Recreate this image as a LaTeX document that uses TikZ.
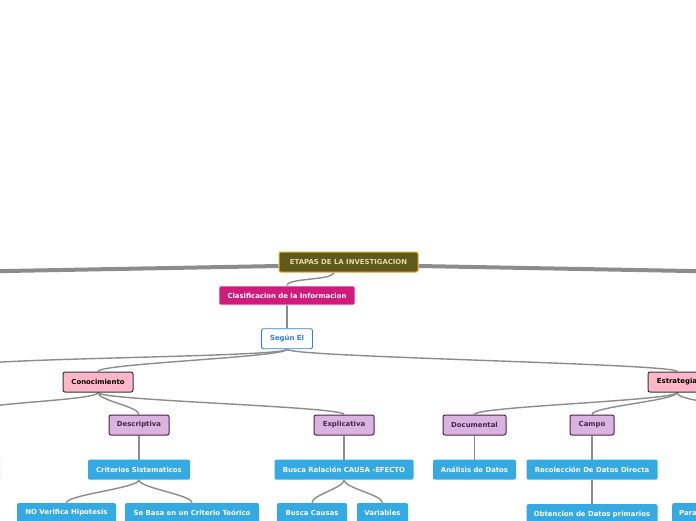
\documentclass[tikz,border=0pt]{standalone}
\usepackage{fontspec}
\setmainfont{DejaVu Sans}
\usepackage{xcolor}
\definecolor{olive700}{HTML}{5E5A1C}
\definecolor{amber400}{HTML}{F2A62E}
\definecolor{khaki200}{HTML}{E3DCA0}
\definecolor{magenta600}{HTML}{D01A7C}
\definecolor{blue600}{HTML}{2C7FDB}
\definecolor{pink200}{HTML}{FFB6C9}
\definecolor{lilac200}{HTML}{D9B4E1}
\definecolor{plum900}{HTML}{4A2346}
\definecolor{sky500}{HTML}{35A9E1}
\definecolor{gray500}{HTML}{8C8C8C}
\usepackage{tikz}
\usetikzlibrary{positioning, backgrounds}

\begin{document}
\begin{tikzpicture}[
        x=1pt, y=-1pt,
        box/.style={rectangle, rounded corners=2pt, minimum height=20pt, inner xsep=5pt, font=\fontsize{6.9}{8}\selectfont\bfseries},
        root/.style={box, fill=olive700, draw=amber400, line width=1pt, text=khaki200},
        topic/.style={box, fill=magenta600, draw=white, line width=0.6pt, text=white},
        outline/.style={box, fill=white, draw=blue600, line width=0.9pt, text=blue600},
        cat/.style={box, fill=pink200, draw=black!80, line width=1pt, text=black},
        sub/.style={box, fill=lilac200, draw=plum900, line width=1pt, text=plum900},
        leaf/.style={box, fill=sky500, text=white},
        link/.style={draw=gray500, line width=1.4pt},
        trunk/.style={draw=gray500, line width=4pt},
        fork/.style={out=-90, in=90, distance=8pt}
    ]
        \useasboundingbox (0,0) rectangle (696,520);

        % Root and first levels
        \node[root, minimum width=139pt] (etapas) at (348.5,262) {ETAPAS DE LA INVESTIGACION};
        \node[topic, minimum width=136pt, minimum height=19pt] (clasif) at (287,295.5) {Clasificacion de la Informacion};
        \node[outline, minimum width=51pt, below=23pt of clasif] (segun) {Según El};

        % Categories
        \node[cat, minimum width=70pt] (conoc) at (98,382) {Conocimiento};
        \node[cat, minimum width=58pt] (estrat) at (677,382) {Estrategia};

        % Types
        \node[sub, minimum width=60pt] (descr) at (139,425) {Descriptiva};
        \node[sub, minimum width=60pt] (expli) at (344,425) {Explicativa};
        \node[sub, minimum width=63pt] (docum) at (474.5,425) {Documental};
        \node[sub, minimum width=44pt] (campo) at (592,425) {Campo};

        % Details
        \node[leaf, minimum width=102pt, below=24pt of descr] (criter) {Criterios Sistematicos};
        \node[leaf, minimum width=139pt, below=24pt of expli] (relac) {Busca Relación CAUSA -EFECTO};
        \node[leaf, minimum width=83pt, below=24pt of docum] (analis) {Análisis de Datos};
        \node[leaf, minimum width=131pt, below=24pt of campo] (recol) {Recolección De Datos Directa};
        \node[box, fill=white, draw=black!15, minimum width=80pt] (cutleft) at (-39,469) {};

        \node[leaf, minimum width=99pt] (noverif) at (66.5,513) {NO Verifica Hipotesis};
        \node[leaf, minimum width=134pt] (sebasa) at (192,513) {Se Basa en un Criterio Teórico};
        \node[leaf, minimum width=70pt] (causas) at (312,513) {Busca Causas};
        \node[leaf, minimum width=51pt] (variab) at (382.5,513) {Variables};
        \node[leaf, minimum width=131pt, below=24pt of recol] (obten) {Obtencion de Datos primarios};
        \node[leaf, anchor=west, inner xsep=7pt] (para) at (672,513) {Para};

        % Branches leaving the page
        \coordinate (farL) at (-10,271.3);
        \coordinate (farR) at (706,271.3);
        \coordinate (offSegun) at (-30,366);
        \coordinate (offConoc) at (-25,411);
        \coordinate (offEstrat) at (720,409);

        \begin{scope}[on background layer]
            \fill[white] (0,0) rectangle (696,520);
            \draw[trunk] ([yshift=-4pt]etapas.west) -- (farL);
            \draw[trunk] ([yshift=-4pt]etapas.east) -- (farR);

            \draw[link] ([xshift=-15pt]etapas.south) to[fork] (clasif.north);
            \draw[link] (clasif.south) -- (segun.north);

            \draw[link] (segun.south) to[fork] (offSegun);
            \draw[link] (segun.south) to[fork] (conoc.north);
            \draw[link] (segun.south) to[fork] (estrat.north);

            \draw[link] (conoc.south) to[fork] (offConoc);
            \draw[link] (conoc.south) to[fork] (descr.north);
            \draw[link] (conoc.south) to[fork] (expli.north);
            \draw[link] (estrat.south) to[fork] (docum.north);
            \draw[link] (estrat.south) to[fork] (campo.north);
            \draw[link] (estrat.south) to[fork] (offEstrat);

            \draw[link] (descr.south) to[fork] (criter.north);
            \draw[link] (expli.south) to[fork] (relac.north);
            \draw[link] (docum.south) to[fork] (analis.north);
            \draw[link] (campo.south) to[fork] (recol.north);

            \draw[link] (criter.south) to[fork] (noverif.north);
            \draw[link] (criter.south) to[fork] (sebasa.north);
            \draw[link] (relac.south) to[fork] (causas.north);
            \draw[link] (relac.south) to[fork] (variab.north);
            \draw[link] (recol.south) to[fork] (obten.north);
        \end{scope}
    \end{tikzpicture}
\end{document}
